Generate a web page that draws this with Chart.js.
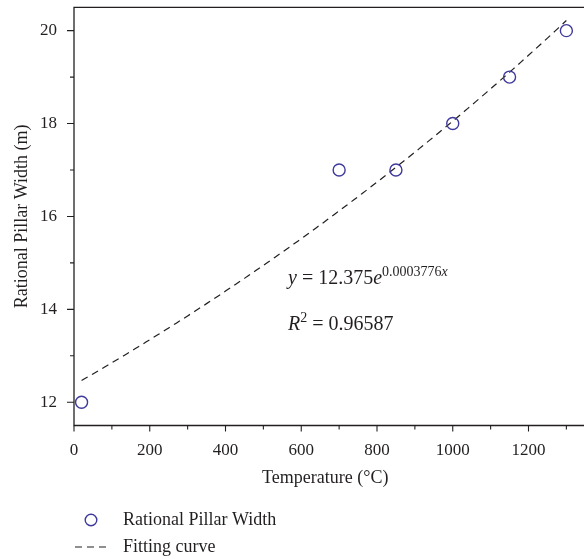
<!DOCTYPE html>
<html lang="en">
<head>
    <meta charset="UTF-8">
    <title>Rational Pillar Width vs Temperature</title>
    <script src="https://cdn.jsdelivr.net/npm/chart.js@4.4.1/dist/chart.umd.min.js"></script>
    <style>
        html, body {
            margin: 0;
            padding: 0;
            background: #ffffff;
        }
        .chart-box {
            position: relative;
            width: 584px;
            height: 559px;
        }
    </style>
</head>
<body>
    <div class="chart-box">
        <canvas id="widthChart"></canvas>
    </div>

    <script>
        // Measured pillar widths
        const temperatures = [20, 700, 850, 1000, 1150, 1300];
        const pillarWidths = [12, 17, 17, 18, 19, 20];

        // Exponential fit y = a * e^(b x)
        const fitA = 12.375;
        const fitB = 0.0003776;
        const fitR2 = '0.96587';
        const fitFrom = 20;
        const fitTo = 1300;

        // Axis ticks
        const xMajorTicks = [0, 200, 400, 600, 800, 1000, 1200];
        const xMinorTicks = [100, 300, 500, 700, 900, 1100, 1300];
        const yMajorTicks = [12, 14, 16, 18, 20];
        const yMinorTicks = [13, 15, 17, 19];

        const ink = '#231f20';
        const markerColor = '#3f3a9c';
        const serif = "'Liberation Serif', 'DejaVu Serif', serif";

        const fitPoints = [];
        for (let x = fitFrom; x <= fitTo; x += 10) {
            fitPoints.push({ x: x, y: fitA * Math.exp(fitB * x) });
        }

        // no extra room for overhanging tick labels
        function noLabelPadding(scale) {
            scale.paddingTop = 0;
            scale.paddingBottom = 0;
            scale.paddingLeft = 0;
            scale.paddingRight = 0;
        }

        // Axis frame with outward major/minor tick marks
        const frameTicks = {
            id: 'frameTicks',
            beforeDatasetsDraw(chart) {
                const { ctx, chartArea: a, scales: { x, y } } = chart;
                ctx.save();
                ctx.strokeStyle = ink;
                ctx.lineWidth = 1.3;
                ctx.beginPath();
                ctx.moveTo(chart.width, a.top);
                ctx.lineTo(a.left, a.top);
                ctx.lineTo(a.left, a.bottom);
                ctx.lineTo(chart.width, a.bottom);
                ctx.stroke();

                ctx.lineWidth = 1.1;
                ctx.beginPath();
                xMajorTicks.forEach(v => {
                    const px = x.getPixelForValue(v);
                    ctx.moveTo(px, a.bottom);
                    ctx.lineTo(px, a.bottom + 6);
                });
                xMinorTicks.forEach(v => {
                    const px = x.getPixelForValue(v);
                    ctx.moveTo(px, a.bottom);
                    ctx.lineTo(px, a.bottom + 4);
                });
                yMajorTicks.forEach(v => {
                    const py = y.getPixelForValue(v);
                    ctx.moveTo(a.left, py);
                    ctx.lineTo(a.left - 7, py);
                });
                yMinorTicks.forEach(v => {
                    const py = y.getPixelForValue(v);
                    ctx.moveTo(a.left, py);
                    ctx.lineTo(a.left - 4, py);
                });
                ctx.stroke();
                ctx.restore();
            }
        };

        // Fit equation and legend
        const notes = {
            id: 'notes',
            afterDraw(chart) {
                const { ctx } = chart;
                ctx.save();
                ctx.fillStyle = ink;
                ctx.textBaseline = 'alphabetic';
                ctx.textAlign = 'left';

                // y = 12.375e^(0.0003776x)
                let cx = 288;
                const eqY = 284;
                ctx.font = 'italic 20px ' + serif;
                ctx.fillText('y', cx, eqY);
                cx += ctx.measureText('y').width;
                ctx.font = '20px ' + serif;
                const mid = ' = ' + fitA.toFixed(3);
                ctx.fillText(mid, cx, eqY);
                cx += ctx.measureText(mid).width;
                ctx.font = 'italic 20px ' + serif;
                ctx.fillText('e', cx, eqY);
                cx += ctx.measureText('e').width;
                ctx.font = '14px ' + serif;
                const expo = fitB.toFixed(7);
                ctx.fillText(expo, cx, eqY - 8.5);
                cx += ctx.measureText(expo).width;
                ctx.font = 'italic 14px ' + serif;
                ctx.fillText('x', cx, eqY - 8.5);

                // R^2 = 0.96587
                cx = 288;
                const rY = 330;
                ctx.font = 'italic 20px ' + serif;
                ctx.fillText('R', cx, rY);
                cx += ctx.measureText('R').width;
                ctx.font = '14px ' + serif;
                ctx.fillText('2', cx, rY - 8.5);
                cx += ctx.measureText('2').width;
                ctx.font = '20px ' + serif;
                ctx.fillText(' = ' + fitR2, cx, rY);

                // Legend
                const sets = chart.data.datasets;
                ctx.font = '18px ' + serif;
                ctx.textBaseline = 'middle';
                ctx.strokeStyle = markerColor;
                ctx.lineWidth = 1.4;
                ctx.beginPath();
                ctx.arc(91, 520, 5.8, 0, Math.PI * 2);
                ctx.stroke();
                ctx.fillText(sets[0].label, 123, 520);

                ctx.strokeStyle = ink;
                ctx.lineWidth = 1.2;
                ctx.setLineDash([7, 5]);
                ctx.beginPath();
                ctx.moveTo(75, 547);
                ctx.lineTo(110, 547);
                ctx.stroke();
                ctx.setLineDash([]);
                ctx.fillText(sets[1].label, 123, 547);
                ctx.restore();
            }
        };

        new Chart(document.getElementById('widthChart'), {
            type: 'scatter',
            data: {
                datasets: [{
                    label: 'Rational Pillar Width',
                    data: temperatures.map((t, i) => ({ x: t, y: pillarWidths[i] })),
                    pointStyle: 'circle',
                    pointRadius: 6,
                    pointHoverRadius: 6,
                    backgroundColor: 'rgba(0,0,0,0)',
                    borderColor: markerColor,
                    pointBorderWidth: 1.4,
                    order: 0
                }, {
                    label: 'Fitting curve',
                    type: 'line',
                    data: fitPoints,
                    showLine: true,
                    pointRadius: 0,
                    borderColor: ink,
                    borderWidth: 1.2,
                    borderDash: [7, 5],
                    fill: false,
                    tension: 0,
                    order: 1
                }]
            },
            options: {
                responsive: true,
                maintainAspectRatio: false,
                animation: false,
                layout: {
                    padding: { top: 7, right: 0, bottom: 70, left: 0 }
                },
                plugins: {
                    legend: { display: false },
                    tooltip: { enabled: false }
                },
                scales: {
                    x: {
                        type: 'linear',
                        min: 0,
                        max: 1327,
                        afterBuildTicks: scale => {
                            scale.ticks = xMajorTicks.map(v => ({ value: v }));
                        },
                        afterFit: scale => {
                            scale.height = 63.5;
                            noLabelPadding(scale);
                        },
                        grid: { display: false, drawTicks: false },
                        border: { display: false },
                        ticks: {
                            color: ink,
                            padding: 15,
                            maxRotation: 0,
                            callback: v => String(v),
                            font: { family: serif, size: 17 }
                        },
                        title: {
                            display: true,
                            text: 'Temperature (°C)',
                            color: ink,
                            font: { family: serif, size: 18 },
                            padding: { top: 0, bottom: 0 }
                        }
                    },
                    y: {
                        type: 'linear',
                        min: 11.5,
                        max: 20.5,
                        afterBuildTicks: scale => {
                            scale.ticks = yMajorTicks.map(v => ({ value: v }));
                        },
                        afterFit: scale => {
                            scale.width = 74;
                            noLabelPadding(scale);
                        },
                        grid: { display: false, drawTicks: false },
                        border: { display: false },
                        ticks: {
                            color: ink,
                            padding: 17,
                            callback: v => String(v),
                            font: { family: serif, size: 17 }
                        },
                        title: {
                            display: true,
                            text: 'Rational Pillar Width (m)',
                            color: ink,
                            font: { family: serif, size: 18 },
                            padding: { top: 11, bottom: 0 }
                        }
                    }
                }
            },
            plugins: [frameTicks, notes]
        });
    </script>
</body>
</html>
